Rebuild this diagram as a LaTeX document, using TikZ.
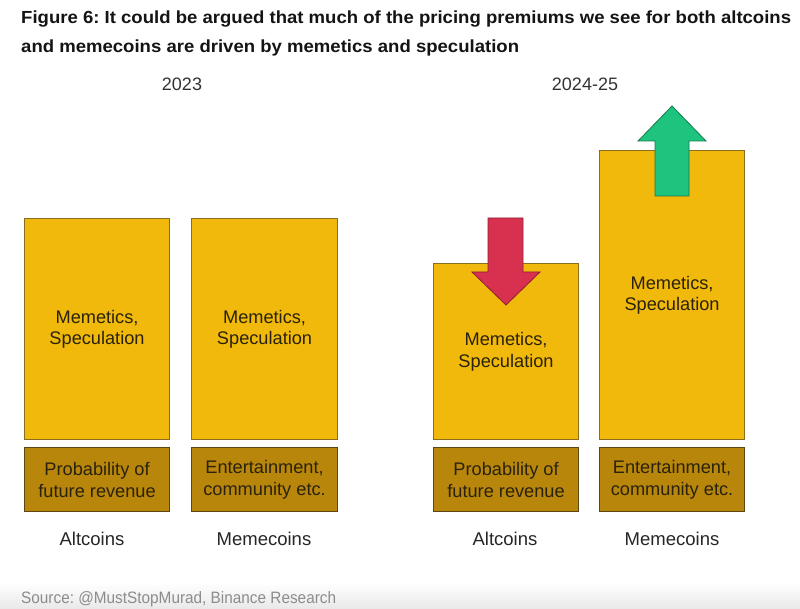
\documentclass[tikz,border=0pt]{standalone}
\usepackage{fontspec}
\setmainfont{Liberation Sans}
\newfontfamily\srcfont[FakeStretch=0.93]{Liberation Sans}
\newfontfamily\titlefont[FakeStretch=1.06]{Liberation Sans}
\definecolor{upfill}{HTML}{F0B90B}
\definecolor{lowfill}{HTML}{B8860B}
\definecolor{upline}{HTML}{8A6D1E}
\definecolor{lowline}{HTML}{5C4714}
\definecolor{txt}{HTML}{2A220C}
\definecolor{redfill}{HTML}{D8304F}
\definecolor{redline}{HTML}{8E1F33}
\definecolor{grnfill}{HTML}{1EC37D}
\definecolor{grnline}{HTML}{137A4E}
\frenchspacing
\begin{document}
\begin{tikzpicture}[x=1pt,y=-1pt,
  upbox/.style={draw=upline, line width=1.1pt, fill=upfill, anchor=north west, inner sep=0pt,
    text=txt, align=center, font=\fontsize{18.2}{21.5}\selectfont},
  lowbox/.style={draw=lowline, line width=1.1pt, fill=lowfill, anchor=north west, inner sep=0pt,
    text=txt, align=center, font=\fontsize{18.2}{22}\selectfont},
  catlabel/.style={anchor=base, text=black!85, font=\fontsize{18.5}{22}\selectfont},
  yearlabel/.style={anchor=base, text=black!80, font=\fontsize{18}{22}\selectfont},
  titleline/.style={anchor=base west, text=black!92, font=\titlefont\fontsize{17.5}{20}\selectfont\bfseries, inner sep=0pt},
  redarrow/.style={fill=redfill, draw=redline, line width=0.8pt, line join=miter},
  grnarrow/.style={fill=grnfill, draw=grnline, line width=0.8pt, line join=miter}
]
\useasboundingbox (0,0) rectangle (800,609);
\fill[white] (0,0) rectangle (800,609);
% footer band
\shade[top color=white, bottom color=black!9] (0,583) rectangle (800,609);

% title
\node[titleline] (t1) at (21,24) {Figure 6: It could be argued that much of the pricing premiums we see for both altcoins};
\node[titleline] (t2) at (21,53) {and memecoins are driven by memetics and speculation};

% years
\node[yearlabel] (y1) at (182,91) {2023};
\node[yearlabel] (y2) at (585,91) {2024-25};

% 2023 boxes
\node[upbox, minimum width=145pt, minimum height=221pt] (u1) at (24,218) {Memetics,\\Speculation};
\node[lowbox, minimum width=145pt, minimum height=64pt] (l1) at (24,447) {Probability of\\future revenue};
\node[upbox, minimum width=146pt, minimum height=221pt] (u2) at (191,218) {Memetics,\\Speculation};
\node[lowbox, minimum width=146pt, minimum height=64pt] (l2) at (191,447) {Entertainment,\\community etc.};

% 2024-25 boxes
\node[upbox, minimum width=145pt, minimum height=176pt] (u3) at (433,263) {Memetics,\\Speculation};
\node[lowbox, minimum width=145pt, minimum height=64pt] (l3) at (433,447) {Probability of\\future revenue};
\node[upbox, minimum width=145pt, minimum height=289pt] (u4) at (599,150) {Memetics,\\Speculation};
\node[lowbox, minimum width=145pt, minimum height=64pt] (l4) at (599,447) {Entertainment,\\community etc.};

% arrows
\draw[redarrow] (488,218) -- (523,218) -- (523,272) -- (540,272) -- (506,305) -- (472,272) -- (488,272) -- cycle;
\draw[grnarrow] (655,196) -- (655,141) -- (638,141) -- (672,106) -- (706,141) -- (689,141) -- (689,196) -- cycle;

% category labels
\node[catlabel] (c1) at (92,545) {Altcoins};
\node[catlabel] (c2) at (264,545) {Memecoins};
\node[catlabel] (c3) at (505,545) {Altcoins};
\node[catlabel] (c4) at (672,545) {Memecoins};

% source
\node[anchor=base west, inner sep=0pt, text=black!45, font=\srcfont\fontsize{16.5}{20}\selectfont] (src) at (21,603) {Source: @MustStopMurad, Binance Research};
\end{tikzpicture}
\end{document}
